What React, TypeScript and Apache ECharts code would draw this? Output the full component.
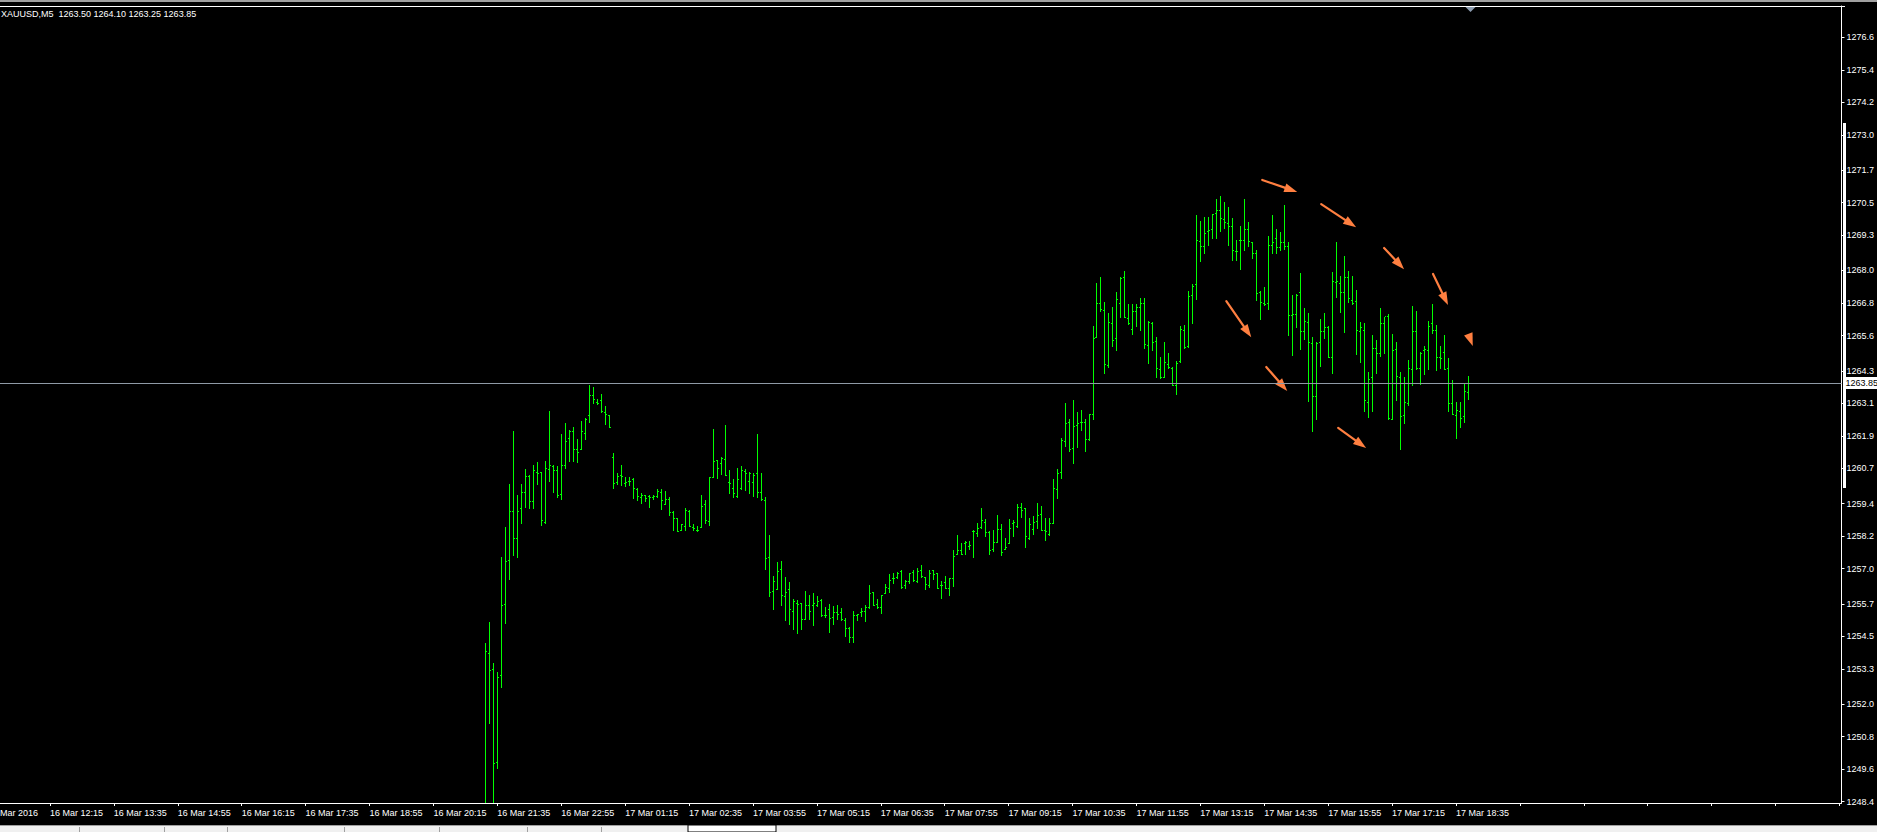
import React, { useEffect, useRef } from 'react';
import * as echarts from 'echarts';

const SYMBOL = 'XAUUSD,M5';
const FONT = '"Liberation Sans", Arial, sans-serif';
const GREEN = '#00ff00';
const ORANGE = '#ff7f40';

// x-axis tick labels, one every 16 bars (5-minute bars); the first one sits just left of the window
const TIME_LABELS = [
  '16 Mar 2016', '16 Mar 12:15', '16 Mar 13:35', '16 Mar 14:55', '16 Mar 16:15', '16 Mar 17:35',
  '16 Mar 18:55', '16 Mar 20:15', '16 Mar 21:35', '16 Mar 22:55', '17 Mar 01:15', '17 Mar 02:35',
  '17 Mar 03:55', '17 Mar 05:15', '17 Mar 06:35', '17 Mar 07:55', '17 Mar 09:15', '17 Mar 10:35',
  '17 Mar 11:55', '17 Mar 13:15', '17 Mar 14:35', '17 Mar 15:55', '17 Mar 17:15', '17 Mar 18:35',
];
const BARS_PER_LABEL = 16;
const CATEGORY_COUNT = 461;
const LABEL_OFFSET = 12; // category index of '16 Mar 12:15'
const FIRST_BAR = 121; // category index of the first drawn bar

// price scale labels
const Y_TICKS = [
  1276.6, 1275.4, 1274.2, 1273.0, 1271.7, 1270.5, 1269.3, 1268.0, 1266.8, 1265.6, 1264.3, 1263.1,
  1261.9, 1260.7, 1259.4, 1258.2, 1257.0, 1255.7, 1254.5, 1253.3, 1252.0, 1250.8, 1249.6, 1248.4,
];
const Y_MIN = 1248.35;
const Y_MAX = 1277.76;

const OPEN = [
  1247.90, 1253.88, 1253.30, 1249.86, 1253.07, 1255.71, 1257.32, 1259.12, 1258.13, 1259.23,
  1259.83, 1260.42, 1259.49, 1260.56, 1260.56, 1258.72, 1260.68, 1260.79, 1260.64, 1259.75,
  1260.82, 1261.82, 1262.08, 1261.41, 1261.41, 1262.00, 1262.67, 1263.40, 1263.15, 1263.22,
  1262.78, 1262.67, 1261.12, 1260.19, 1260.45, 1260.16, 1260.23, 1260.31, 1259.94, 1259.64,
  1259.71, 1259.68, 1259.64, 1259.68, 1259.83, 1259.38, 1259.57, 1259.09, 1258.86, 1258.42,
  1258.57, 1259.12, 1258.53, 1258.42, 1258.53, 1259.38, 1258.75, 1260.38, 1261.01, 1260.90,
  1261.04, 1260.19, 1259.97, 1259.68, 1259.97, 1260.60, 1260.23, 1260.19, 1260.53, 1259.83,
  1259.53, 1257.43, 1256.17, 1256.25, 1256.98, 1255.99, 1256.25, 1255.43, 1255.73, 1255.73,
  1255.14, 1255.66, 1255.66, 1255.66, 1255.84, 1255.29, 1255.51, 1255.21, 1255.40, 1255.40,
  1255.10, 1254.81, 1254.47, 1255.29, 1255.40, 1255.43, 1255.60, 1256.14, 1255.71, 1255.60,
  1256.10, 1256.28, 1256.65, 1256.69, 1256.91, 1256.39, 1256.54, 1256.87, 1256.54, 1256.95,
  1256.69, 1256.39, 1256.95, 1256.84, 1256.39, 1256.50, 1256.28, 1256.65, 1257.54, 1257.69,
  1257.94, 1257.83, 1258.39, 1258.31, 1258.53, 1258.72, 1258.35, 1257.72, 1257.98, 1258.46,
  1257.72, 1257.94, 1258.68, 1258.57, 1259.27, 1259.23, 1258.13, 1258.46, 1258.75, 1259.01,
  1258.42, 1258.28, 1258.68, 1259.94, 1260.56, 1261.71, 1262.41, 1261.45, 1262.30, 1262.41,
  1262.41, 1261.78, 1262.70, 1265.54, 1266.80, 1266.54, 1264.51, 1266.06, 1265.51, 1266.80,
  1267.76, 1266.25, 1265.84, 1266.50, 1266.65, 1266.80, 1265.25, 1266.06, 1265.40, 1264.36,
  1264.07, 1264.55, 1264.40, 1263.77, 1264.66, 1265.80, 1265.21, 1267.09, 1267.50, 1269.09,
  1268.90, 1269.46, 1269.53, 1270.12, 1270.23, 1269.90, 1269.75, 1269.64, 1268.72, 1269.12,
  1269.12, 1269.53, 1269.05, 1268.64, 1267.21, 1266.80, 1266.80, 1268.94, 1269.20, 1268.87,
  1269.05, 1268.90, 1266.36, 1266.39, 1267.21, 1265.77, 1266.10, 1265.32, 1263.37, 1265.36,
  1265.77, 1265.91, 1264.81, 1267.57, 1267.54, 1267.21, 1267.76, 1266.91, 1266.87, 1265.77,
  1265.80, 1263.15, 1264.07, 1265.14, 1264.95, 1266.06, 1266.32, 1262.52, 1265.10, 1264.07,
  1262.67, 1263.11, 1264.36, 1265.77, 1264.40, 1265.07, 1265.07, 1266.06, 1265.80, 1264.81,
  1264.99, 1264.40, 1263.11, 1262.67, 1262.82, 1262.63, 1263.50,
];
const HIGH = [
  1254.25, 1255.03, 1253.52, 1253.18, 1257.43, 1258.53, 1260.12, 1262.08, 1259.71, 1260.12,
  1260.68, 1260.45, 1260.82, 1260.93, 1260.56, 1260.97, 1262.82, 1260.82, 1260.79, 1261.97,
  1262.37, 1262.11, 1262.22, 1261.78, 1262.45, 1262.56, 1263.77, 1263.70, 1263.26, 1263.44,
  1263.00, 1262.67, 1261.26, 1260.53, 1260.82, 1260.38, 1260.38, 1260.34, 1259.97, 1259.79,
  1259.71, 1259.71, 1259.71, 1259.94, 1259.94, 1259.86, 1259.64, 1259.12, 1258.86, 1258.64,
  1259.23, 1259.16, 1258.64, 1258.57, 1259.71, 1259.53, 1260.38, 1262.15, 1261.01, 1261.12,
  1262.30, 1260.64, 1260.31, 1260.71, 1260.79, 1260.68, 1260.56, 1260.53, 1261.97, 1260.53,
  1259.64, 1258.24, 1256.73, 1257.24, 1257.28, 1256.69, 1256.50, 1255.88, 1255.84, 1255.73,
  1256.17, 1256.02, 1256.10, 1255.99, 1255.88, 1255.60, 1255.71, 1255.62, 1255.66, 1255.54,
  1255.18, 1254.84, 1255.43, 1255.32, 1255.54, 1255.66, 1256.39, 1256.14, 1255.88, 1256.02,
  1256.43, 1256.80, 1256.84, 1256.87, 1256.95, 1256.58, 1256.84, 1256.95, 1257.02, 1257.13,
  1256.69, 1256.95, 1256.95, 1256.84, 1256.54, 1256.73, 1256.65, 1257.69, 1258.24, 1257.94,
  1258.02, 1258.02, 1258.42, 1258.68, 1259.23, 1258.83, 1258.39, 1258.42, 1258.98, 1258.64,
  1258.13, 1258.83, 1258.79, 1259.38, 1259.42, 1259.23, 1258.86, 1258.94, 1259.42, 1259.31,
  1258.86, 1258.86, 1260.31, 1260.68, 1261.82, 1263.11, 1262.52, 1263.22, 1262.78, 1262.85,
  1262.52, 1262.70, 1265.95, 1267.54, 1267.76, 1266.84, 1266.43, 1266.65, 1267.21, 1267.76,
  1267.98, 1266.76, 1266.76, 1266.76, 1266.98, 1266.98, 1266.13, 1266.10, 1265.54, 1264.81,
  1265.36, 1264.95, 1264.44, 1264.66, 1265.95, 1265.99, 1267.24, 1267.50, 1270.05, 1269.83,
  1269.97, 1269.97, 1270.08, 1270.64, 1270.75, 1270.53, 1270.34, 1269.94, 1269.12, 1269.64,
  1270.64, 1269.79, 1269.05, 1268.76, 1267.24, 1267.39, 1269.27, 1270.05, 1269.53, 1269.42,
  1270.42, 1269.05, 1267.09, 1267.13, 1267.91, 1266.61, 1266.43, 1265.54, 1265.36, 1266.21,
  1266.43, 1265.95, 1267.94, 1269.05, 1267.80, 1268.53, 1267.98, 1267.80, 1267.28, 1266.10,
  1266.06, 1264.25, 1265.62, 1265.43, 1266.61, 1266.28, 1266.39, 1265.66, 1265.36, 1264.25,
  1264.07, 1264.70, 1266.69, 1266.50, 1264.99, 1265.21, 1266.13, 1266.76, 1265.99, 1265.21,
  1265.62, 1264.77, 1263.96, 1263.15, 1263.15, 1263.85, 1264.10,
];
const LOW = [
  1247.35, 1251.30, 1247.60, 1249.64, 1252.63, 1254.99, 1256.61, 1257.50, 1257.43, 1258.68,
  1259.27, 1259.23, 1259.23, 1260.12, 1258.61, 1258.68, 1260.23, 1259.83, 1259.64, 1259.57,
  1260.71, 1260.97, 1260.97, 1260.93, 1261.41, 1261.78, 1262.41, 1263.11, 1263.07, 1262.78,
  1262.33, 1262.22, 1259.97, 1260.12, 1260.08, 1260.05, 1260.08, 1259.60, 1259.53, 1259.42,
  1259.49, 1259.27, 1259.57, 1259.64, 1259.20, 1259.38, 1258.98, 1258.42, 1258.39, 1258.42,
  1258.42, 1258.57, 1258.42, 1258.39, 1258.53, 1258.68, 1258.61, 1260.38, 1260.34, 1260.49,
  1260.45, 1259.79, 1259.64, 1259.64, 1259.94, 1259.90, 1259.79, 1259.68, 1259.64, 1259.53,
  1256.98, 1255.99, 1255.51, 1256.25, 1255.66, 1255.10, 1254.95, 1254.77, 1254.62, 1254.77,
  1255.14, 1255.14, 1254.92, 1255.62, 1255.25, 1255.21, 1254.66, 1254.95, 1255.14, 1255.10,
  1254.51, 1254.29, 1254.29, 1255.10, 1255.25, 1255.07, 1255.54, 1255.66, 1255.54, 1255.36,
  1256.10, 1256.14, 1256.47, 1256.65, 1256.28, 1256.28, 1256.47, 1256.54, 1256.50, 1256.69,
  1256.25, 1256.32, 1256.61, 1256.28, 1255.91, 1256.28, 1256.02, 1256.36, 1257.54, 1257.54,
  1257.54, 1257.72, 1257.43, 1258.20, 1258.50, 1258.20, 1257.54, 1257.65, 1257.98, 1257.50,
  1257.72, 1257.94, 1258.20, 1258.53, 1258.90, 1257.80, 1258.09, 1258.28, 1258.50, 1258.42,
  1258.05, 1258.24, 1258.68, 1259.60, 1260.34, 1261.52, 1261.34, 1260.90, 1261.49, 1262.11,
  1261.34, 1261.74, 1262.52, 1265.54, 1266.50, 1264.21, 1264.44, 1265.21, 1265.07, 1266.28,
  1266.28, 1266.02, 1265.66, 1265.95, 1265.80, 1265.14, 1264.59, 1265.07, 1264.07, 1264.03,
  1264.07, 1264.40, 1263.77, 1263.44, 1264.62, 1265.14, 1265.18, 1266.06, 1266.95, 1268.35,
  1268.64, 1268.94, 1269.20, 1269.20, 1269.46, 1269.57, 1268.94, 1268.39, 1268.39, 1268.05,
  1268.76, 1268.90, 1268.46, 1266.91, 1266.21, 1266.73, 1266.58, 1268.64, 1268.64, 1268.76,
  1268.79, 1265.62, 1264.88, 1265.91, 1265.10, 1265.47, 1263.18, 1262.08, 1262.52, 1264.47,
  1265.51, 1264.81, 1264.21, 1267.02, 1266.47, 1265.73, 1266.84, 1266.76, 1264.92, 1264.62,
  1262.82, 1262.59, 1262.82, 1264.21, 1264.84, 1264.95, 1262.52, 1262.52, 1263.22, 1261.41,
  1262.37, 1263.04, 1263.77, 1264.36, 1263.81, 1264.18, 1264.36, 1265.69, 1264.33, 1264.40,
  1264.36, 1262.82, 1262.70, 1261.82, 1262.22, 1262.41, 1263.25,
];
const CLOSE = [
  1253.96, 1253.26, 1249.83, 1253.00, 1255.66, 1257.28, 1259.12, 1258.13, 1259.12, 1259.83,
  1260.42, 1259.49, 1260.64, 1260.53, 1258.79, 1260.71, 1260.82, 1260.64, 1259.71, 1260.82,
  1261.71, 1262.08, 1261.41, 1261.30, 1262.08, 1262.52, 1263.40, 1263.26, 1263.11, 1262.82,
  1262.70, 1262.22, 1260.16, 1260.42, 1260.42, 1260.19, 1260.23, 1259.97, 1259.68, 1259.71,
  1259.60, 1259.64, 1259.68, 1259.86, 1259.53, 1259.57, 1259.09, 1258.86, 1258.39, 1258.64,
  1259.16, 1258.57, 1258.50, 1258.42, 1259.31, 1258.79, 1260.38, 1260.97, 1260.71, 1261.08,
  1260.45, 1260.16, 1259.79, 1260.31, 1260.64, 1260.53, 1260.53, 1260.45, 1259.83, 1259.57,
  1257.39, 1256.14, 1256.54, 1256.91, 1256.02, 1256.14, 1255.51, 1255.80, 1255.71, 1255.14,
  1255.66, 1255.43, 1255.73, 1255.80, 1255.29, 1255.29, 1255.18, 1255.40, 1255.32, 1255.14,
  1254.81, 1254.47, 1255.29, 1255.32, 1255.43, 1255.60, 1256.10, 1255.66, 1255.60, 1256.02,
  1256.32, 1256.58, 1256.65, 1256.84, 1256.32, 1256.54, 1256.84, 1256.58, 1256.91, 1256.73,
  1256.43, 1256.84, 1256.80, 1256.28, 1256.39, 1256.28, 1256.65, 1257.46, 1257.69, 1257.54,
  1257.98, 1257.87, 1258.39, 1258.50, 1258.79, 1258.35, 1257.69, 1257.98, 1258.46, 1257.61,
  1257.80, 1258.50, 1258.72, 1259.27, 1259.16, 1258.20, 1258.64, 1258.72, 1258.98, 1258.42,
  1258.39, 1258.68, 1259.97, 1260.53, 1261.74, 1262.37, 1261.41, 1262.26, 1262.37, 1262.41,
  1261.78, 1262.70, 1265.51, 1266.80, 1266.58, 1264.55, 1266.10, 1265.43, 1266.95, 1267.72,
  1266.28, 1266.06, 1266.50, 1266.65, 1266.80, 1265.29, 1266.10, 1265.36, 1264.40, 1264.07,
  1264.62, 1264.44, 1263.77, 1264.59, 1265.84, 1265.18, 1267.06, 1267.43, 1269.12, 1268.90,
  1269.38, 1269.49, 1270.08, 1270.23, 1269.94, 1269.79, 1269.64, 1268.76, 1268.72, 1269.12,
  1269.53, 1269.09, 1268.64, 1267.17, 1266.84, 1266.76, 1268.94, 1269.05, 1268.87, 1269.05,
  1268.90, 1266.36, 1266.39, 1267.09, 1265.77, 1266.13, 1265.36, 1263.37, 1265.32, 1265.77,
  1265.91, 1264.81, 1267.61, 1267.61, 1267.21, 1267.76, 1266.98, 1266.80, 1265.80, 1265.91,
  1263.22, 1263.99, 1265.14, 1264.95, 1266.06, 1266.32, 1262.56, 1265.07, 1264.10, 1262.63,
  1263.15, 1264.40, 1265.77, 1264.40, 1264.95, 1265.10, 1265.95, 1265.80, 1264.81, 1264.77,
  1264.36, 1263.11, 1262.70, 1262.85, 1262.56, 1263.55, 1263.85,
];

// hand-drawn arrow annotations: [fromBar, fromPrice, toBar, toPrice]
const ARROWS = [
  [315.5, 1271.34, 324.25, 1270.9],
  [330.25, 1270.45, 339, 1269.6],
  [346, 1268.83, 351, 1268.05],
  [358.25, 1267.87, 362, 1266.73],
  [367, 1265.69, 368.2, 1265.21],
  [306.5, 1266.87, 312.75, 1265.54],
  [316.5, 1264.44, 321.75, 1263.55],
  [334.5, 1262.19, 341.5, 1261.45],
];

// terminal tab strip separators (x positions, px)
const TAB_EDGES = [79, 164, 227, 344, 439, 527, 601, 688, 776];

const LAST = OPEN.length - 1;
const BID = CLOSE[LAST];

export default function App() {
  const ref = useRef<HTMLDivElement>(null);

  useEffect(() => {
    if (!ref.current) return;
    const chart = echarts.init(ref.current, undefined, { renderer: 'svg' });

    const categories: string[] = [];
    for (let j = 0; j < CATEGORY_COUNT; j++) {
      const k = j - LABEL_OFFSET;
      categories.push(k >= 0 && k % BARS_PER_LABEL === 0 ? TIME_LABELS[k / BARS_PER_LABEL + 1] ?? '' : '');
    }
    const showTick = (index: number) => index >= LABEL_OFFSET && (index - LABEL_OFFSET) % BARS_PER_LABEL === 0;
    const barData = OPEN.map((o, k) => [FIRST_BAR + k, o, HIGH[k], LOW[k], CLOSE[k]]);
    const header = `${SYMBOL}  ${OPEN[LAST].toFixed(2)} ${HIGH[LAST].toFixed(2)} ${LOW[LAST].toFixed(2)} ${CLOSE[LAST].toFixed(2)}`;
    // only the part of the first date label that is inside the window is visible
    const firstLabelVisible = TIME_LABELS[0].slice(3);

    const tabGraphics: any[] = [
      { type: 'rect', shape: { x: 0, y: 825, width: 1877, height: 1 }, style: { fill: '#a0a0a0' }, silent: true },
      { type: 'rect', shape: { x: 0, y: 826, width: 1877, height: 6 }, style: { fill: '#f0f0f0' }, silent: true },
      {
        type: 'rect',
        shape: { x: TAB_EDGES[7], y: 825, width: TAB_EDGES[8] - TAB_EDGES[7], height: 7 },
        style: { fill: '#ffffff', stroke: '#000000', lineWidth: 1 },
        silent: true,
      },
    ];
    TAB_EDGES.forEach((x, k) => {
      if (k < 7) {
        tabGraphics.push({ type: 'rect', shape: { x, y: 827, width: 1, height: 5 }, style: { fill: '#a0a0a0' }, silent: true });
      }
    });

    const option: any = {
      animation: false,
      backgroundColor: '#000000',
      title: {
        text: header,
        left: 1,
        top: 9,
        padding: 0,
        textStyle: { color: '#ffffff', fontSize: 9, fontWeight: 'normal', fontFamily: FONT },
      },
      grid: { left: 0, right: 33, top: 6, bottom: 29, containLabel: false },
      xAxis: {
        type: 'category',
        data: categories,
        boundaryGap: true,
        axisLine: { show: true, lineStyle: { color: '#ffffff', width: 1 } },
        axisTick: { show: true, alignWithLabel: true, interval: showTick, length: 3, lineStyle: { color: '#ffffff' } },
        axisLabel: { interval: showTick, align: 'left', margin: 5, color: '#ffffff', fontSize: 9, fontFamily: FONT },
        splitLine: { show: false },
      },
      yAxis: {
        type: 'value',
        position: 'right',
        min: Y_MIN,
        max: Y_MAX,
        axisLine: { show: true, lineStyle: { color: '#ffffff', width: 1 } },
        axisTick: { show: true, length: 3, customValues: Y_TICKS, lineStyle: { color: '#ffffff' } },
        axisLabel: {
          customValues: Y_TICKS,
          formatter: (v: number) => v.toFixed(1),
          color: '#ffffff',
          fontSize: 9,
          margin: 5,
          fontFamily: FONT,
        },
        splitLine: { show: false },
      },
      graphic: [
        { type: 'rect', shape: { x: 0, y: 0, width: 1877, height: 2 }, style: { fill: '#a0a0a0' }, silent: true },
        { type: 'rect', shape: { x: 0, y: 6, width: 1845, height: 1 }, style: { fill: '#ffffff' }, silent: true },
        { type: 'rect', shape: { x: 1843, y: 123, width: 3, height: 365 }, style: { fill: '#ffffff' }, silent: true },
        {
          type: 'polygon',
          shape: { points: [[1465.5, 7], [1475.5, 7], [1470.5, 12]] },
          style: { fill: '#8c9cb0' },
          silent: true,
        },
        {
          type: 'text',
          x: 0,
          y: 808,
          silent: true,
          style: { text: firstLabelVisible, fill: '#ffffff', fontSize: 9, fontFamily: FONT, verticalAlign: 'top', align: 'left' },
        },
        ...tabGraphics,
      ],
      series: [
        {
          type: 'custom',
          name: 'bars',
          clip: true,
          silent: true,
          data: barData,
          encode: { x: 0, y: [1, 2, 3, 4] },
          renderItem: (_params: any, api: any) => {
            const j = api.value(0);
            const ph = api.coord([j, api.value(2)]);
            const x = Math.round(ph[0]);
            const yo = Math.round(api.coord([j, api.value(1)])[1]);
            const yh = Math.round(ph[1]);
            const yl = Math.round(api.coord([j, api.value(3)])[1]);
            const yc = Math.round(api.coord([j, api.value(4)])[1]);
            return {
              type: 'group',
              children: [
                { type: 'rect', shape: { x, y: yh, width: 1, height: Math.max(1, yl - yh + 1) }, style: { fill: GREEN } },
                { type: 'rect', shape: { x: x - 1, y: yo, width: 1, height: 1 }, style: { fill: GREEN } },
                { type: 'rect', shape: { x: x + 1, y: yc, width: 1, height: 1 }, style: { fill: GREEN } },
              ],
            };
          },
          z: 3,
        },
        {
          type: 'custom',
          name: 'arrows',
          clip: false,
          silent: true,
          data: ARROWS,
          dimensions: [
            { name: 'j1', type: 'float' },
            { name: 'p1', type: 'float' },
            { name: 'j2', type: 'float' },
            { name: 'p2', type: 'float' },
          ],
          encode: { x: [0, 2], y: [1, 3] },
          renderItem: (_params: any, api: any) => {
            const bw = api.size([1, 0])[0];
            const base = api.coord([0, api.value(1)])[0];
            const x1 = base + api.value(0) * bw;
            const y1 = api.coord([0, api.value(1)])[1];
            const x2 = base + api.value(2) * bw;
            const y2 = api.coord([0, api.value(3)])[1];
            const dx = x2 - x1;
            const dy = y2 - y1;
            const len = Math.hypot(dx, dy) || 1;
            const ux = dx / len;
            const uy = dy / len;
            const head = Math.min(13, len);
            const half = 4.5;
            const bx = x2 - ux * head;
            const by = y2 - uy * head;
            const children: any[] = [];
            if (len > head + 1) {
              children.push({
                type: 'line',
                shape: { x1, y1, x2: bx + ux * 2, y2: by + uy * 2 },
                style: { stroke: ORANGE, lineWidth: 2.2, lineCap: 'round' },
              });
            }
            children.push({
              type: 'polygon',
              shape: { points: [[x2, y2], [bx - uy * half, by + ux * half], [bx + uy * half, by - ux * half]] },
              style: { fill: ORANGE },
            });
            return { type: 'group', children };
          },
          z: 4,
        },
        {
          type: 'line',
          name: 'bid',
          data: [],
          silent: true,
          markLine: {
            silent: true,
            symbol: ['none', 'none'],
            animation: false,
            lineStyle: { color: '#8f9aa6', width: 1, type: 'solid' },
            label: {
              show: true,
              position: 'end',
              distance: 2,
              formatter: BID.toFixed(2),
              color: '#000000',
              backgroundColor: '#ffffff',
              padding: [2, 8, 1, 2],
              fontSize: 9,
              fontFamily: FONT,
            },
            data: [{ yAxis: BID }],
          },
          z: 2,
        },
      ],
    };

    chart.setOption(option);
    return () => chart.dispose();
  }, []);

  return (
    <div
      ref={ref}
      style={{ position: 'fixed', left: 0, top: 0, width: 1877, height: 832, background: '#000' }}
    />
  );
}
